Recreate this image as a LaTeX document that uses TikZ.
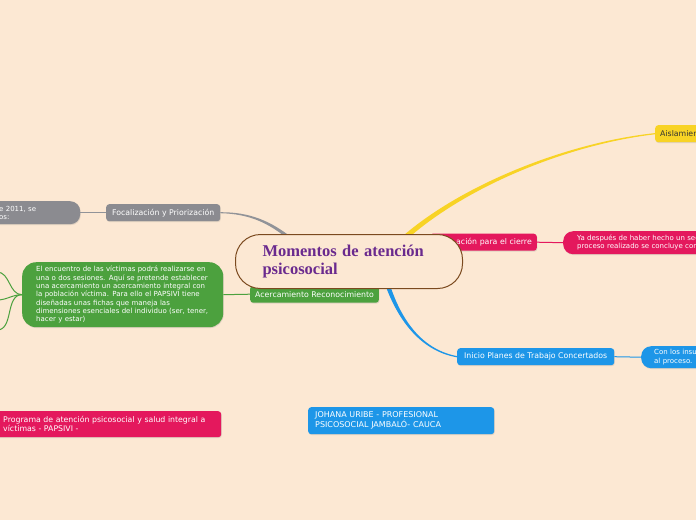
\documentclass[tikz,border=0pt]{standalone}
\usepackage{fontspec}
\setmainfont{DejaVu Sans}
\newfontfamily\titlefont{Liberation Serif}
\usetikzlibrary{calc,shadows}
\definecolor{bg}{HTML}{FCE8D3}
\definecolor{cgray}{HTML}{8B8B90}
\definecolor{clgray}{HTML}{919398}
\definecolor{cgreen}{HTML}{4CA13E}
\definecolor{cpink}{HTML}{E4185D}
\definecolor{cblue}{HTML}{1D96E8}
\definecolor{cyellow}{HTML}{F8D325}
\definecolor{cdark}{HTML}{333333}
\definecolor{cbrown}{HTML}{7B4A1F}
\definecolor{cpurple}{HTML}{6A2A8E}
\tikzset{
  base/.style={inner ysep=0pt, inner xsep=5pt, minimum height=17pt, text=white,
    font=\fontsize{7.8}{9}\selectfont, rounded corners=3pt,
    drop shadow={shadow xshift=0.6pt, shadow yshift=-0.9pt, opacity=0.22}},
  bub/.style={base, font=\fontsize{7}{8.3}\selectfont, align=left},
  thin/.style={line width=1pt},
}
\begin{document}
\begin{tikzpicture}[x=1pt,y=-1pt]
\useasboundingbox (0,0) rectangle (696,520);
\fill[bg] (0,0) rectangle (696,520);
\begin{scope}
\clip (0,0) rectangle (696,520);

% named points for the tapered connectors
\coordinate (g1) at (250,213);
\coordinate (g2) at (270,222);
\coordinate (g3) at (292,240);
\coordinate (y0) at (400,242);
\coordinate (y1) at (462,185);
\coordinate (y2) at (570,143);
\coordinate (b0) at (386,280);
\coordinate (b1) at (398,318);
\coordinate (b2) at (420,350);
\coordinate (l1) at (-3,272);
\coordinate (l2) at (-3,300);
\coordinate (l3) at (-3,330);

% nodes
\node[bub, fill=cgray, anchor=north west, minimum width=90pt, minimum height=23pt,
  text width=72pt, inner xsep=9pt, rounded corners=10pt, font=\fontsize{7}{8}\selectfont] (lg) at (-10,201) {e 2011, se\\os:};
\node[base, fill=cgray, anchor=north west, minimum width=114pt] (foc) at (106,204) {Focalización y Priorización};
\node[bub, fill=cgreen, anchor=north west, minimum height=65pt, text width=173pt,
  inner xsep=14pt, rounded corners=14pt] (bigg) at (22,262)
  {\mbox{El encuentro de las víctimas podrá realizarse en}\\
   \mbox{una o dos sesiones. Aquí se pretende establecer}\\
   \mbox{una acercamiento un acercamiento integral con}\\
   \mbox{la población víctima. Para ello el PAPSIVI tiene}\\
   \mbox{diseñadas unas fichas que maneja las}\\
   \mbox{dimensiones esenciales del individuo (ser, tener,}\\
   \mbox{hacer y estar)}};
\node[base, fill=cgreen, anchor=north west, minimum width=128pt] (acer) at (250,285.5) {Acercamiento Reconocimiento};
\node[base, fill=cpink, anchor=north east, minimum width=107pt, text width=97pt, align=right] (prep) at (537,233.5) {ación para el cierre};
\node[bub, fill=cpink, anchor=north west, minimum height=23pt, text width=160pt,
  inner xsep=14pt, rounded corners=10pt, font=\fontsize{7}{8}\selectfont] (ya) at (563,231)
  {\mbox{Ya después de haber hecho un seg}\\\mbox{proceso realizado se concluye con}};
\node[base, fill=cyellow, text=cdark, anchor=north west, minimum width=80pt, text width=70pt, align=left] (ais) at (655,125) {Aislamien};
\node[base, fill=cblue, anchor=north west, minimum width=157pt] (inicio) at (457,348) {Inicio Planes de Trabajo Concertados};
\node[bub, fill=cblue, anchor=north west, minimum height=22pt, text width=100pt,
  inner xsep=13pt, rounded corners=10pt, font=\fontsize{7}{8.6}\selectfont] (con) at (641,346) {Con los insu\\al proceso.};
\node[base, fill=cpink, anchor=north west, minimum height=26pt, text width=209pt,
  inner xsep=9pt, align=left, font=\fontsize{7.8}{8.8}\selectfont] (prog) at (-6,411)
  {\mbox{Programa de atención psicosocial y salud integral a}\\víctimas - PAPSIVI -};
\node[base, fill=cblue, anchor=north west, minimum height=27pt, text width=172pt,
  inner xsep=7pt, align=left, font=\fontsize{8}{9}\selectfont] (joh) at (308,407)
  {JOHANA URIBE - PROFESIONAL\\PSICOSOCIAL JAMBALÓ- CAUCA};

% thin connectors
\draw[clgray, thin] (lg.east) -- (foc.west);
\draw[cgreen, thin] (acer.west) -- (bigg.east);
\draw[cpink, thin] (prep.east) -- (ya.west);
\draw[cblue, thin] (inicio.east) -- (con.west);
\draw[cgreen, thin] (bigg.west) to[out=180,in=0] (l1);
\draw[cgreen, thin] (bigg.west) to[out=180,in=0] (l2);
\draw[cgreen, thin] (bigg.west) to[out=180,in=0] (l3);

% tapered connectors
\fill[clgray] ($(foc.east)+(0,-0.5)$) .. controls ($(g1)+(0,-0.9)$) and ($(g2)+(0.8,-1.1)$) .. ($(g3)+(1.1,-1.35)$)
  -- ($(g3)+(-1.1,1.35)$) .. controls ($(g2)+(-0.8,1.1)$) and ($(g1)+(0,0.9)$) .. ($(foc.east)+(0,0.5)$) -- cycle;
\fill[cyellow] ($(y0)+(-1.76,-1.91)$) .. controls ($(y1)+(-1.3,-1.4)$) and ($(y2)+(-0.12,-0.95)$) .. ($(ais.west)+(0,-0.6)$)
  -- ($(ais.west)+(0,0.6)$) .. controls ($(y2)+(0.12,0.95)$) and ($(y1)+(1.3,1.4)$) .. ($(y0)+(1.76,1.91)$) -- cycle;
\fill[cblue] ($(b0)+(2.2,-0.7)$) .. controls ($(b1)+(1.4,-0.8)$) and ($(b2)+(0.15,-0.9)$) .. ($(inicio.west)+(0,-0.6)$)
  -- ($(inicio.west)+(0,0.6)$) .. controls ($(b2)+(-0.15,0.9)$) and ($(b1)+(-1.4,0.8)$) .. ($(b0)+(-2.2,0.7)$) -- cycle;

% central node
\node[draw=cbrown, line width=1pt, fill=bg, rounded corners=25pt, anchor=north west,
  minimum width=227pt, minimum height=54pt, inner xsep=27pt, inner ysep=0pt,
  text width=173pt, align=left, text=cpurple,
  font=\titlefont\bfseries\fontsize{16.5}{18.5}\selectfont] (c) at (235,234)
  {Momentos de atención\\psicosocial};
\end{scope}
\end{tikzpicture}
\end{document}
